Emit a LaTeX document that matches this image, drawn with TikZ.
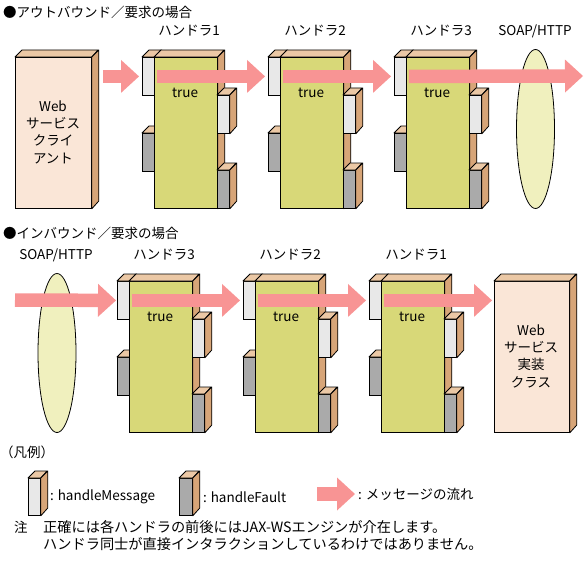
\documentclass[tikz,border=0pt]{standalone}
\usepackage{fontspec}
\setmainfont{Noto Sans CJK JP}
\usetikzlibrary{arrows.meta,shapes.geometric,positioning}

\definecolor{topface}{HTML}{EBC8A5}
\definecolor{sideface}{HTML}{D7A578}
\definecolor{clientface}{HTML}{FAE6D7}
\definecolor{handlergreen}{HTML}{D8D878}
\definecolor{msgwhite}{HTML}{E8E8E8}
\definecolor{faultgray}{HTML}{AAAAAA}
\definecolor{flowpink}{HTML}{F89494}
\definecolor{soapfill}{HTML}{F0F0BE}

\tikzset{
  slab/.style={draw, line width=0.8pt, inner sep=0pt, anchor=north west},
  rim/.style={draw, line width=0.8pt, line join=round},
  flow/.style={draw=flowpink, line width=13.5pt, shorten <=2pt, shorten >=3pt,
    -{Triangle[width=33pt, length=18pt, line width=0pt]}},
  soap/.style={ellipse, draw, line width=0.8pt, fill=soapfill, inner sep=0pt,
    minimum width=38pt, minimum height=159pt},
  txt/.style={inner sep=0pt, anchor=west},
}

% 3D box: name, x, y (top left of front), width, height, colour
\newcommand{\slabbox}[6]{%
  \node[slab, fill=#6, minimum width=#4pt, minimum height=#5pt] (#1) at (#2,#3) {};
  \draw[rim, fill=topface] (#1.north west) -- ++(7,-7) -- ++(#4,0) -- (#1.north east) -- cycle;
  \draw[rim, fill=sideface] (#1.north east) -- ++(7,-7) -- ++(0,#5) -- (#1.south east) -- cycle;
}

% handler: name, x, y, label
\newcommand{\handler}[4]{%
  \slabbox{#1in}{#2-12}{#3}{12}{38}{msgwhite}
  \slabbox{#1flt}{#2-12}{#3+76}{12}{38}{faultgray}
  \slabbox{#1}{#2}{#3}{63}{151}{handlergreen}
  \slabbox{#1out}{#2+63}{#3+38}{12}{38}{msgwhite}
  \slabbox{#1fo}{#2+63}{#3+113}{12}{38}{faultgray}
  \node (#1t) at (#2+31,#3+36) {true};
  \node (#1lbl) at (#2+35,#3-26) {#4};
}

\begin{document}
\begin{tikzpicture}[x=1pt, y=-1pt, font=\fontsize{13.5}{17.3}\selectfont]
  \useasboundingbox (0,0) rectangle (585,564);

  % outbound
  \node[txt] (outtitle) at (3,12) {●アウトバウンド／要求の場合};
  \slabbox{client}{15}{57}{76}{151}{clientface}
  \node[align=center] (clienttxt) at (53,132) {Web\\サービス\\クライ\\アント};
  \foreach \i/\x in {1/154,2/280,3/406} {\handler{a\i}{\x}{57}{ハンドラ\i}}
  \node[soap] (soapA) at (535.5,129) {};
  \node (soapAlbl) at (535,31) {SOAP/HTTP};
  \coordinate (outA) at (583,76);
  \draw[flow, shorten <=11pt] (client.east |- a1in.west) -- (a1in.west);
  \draw[flow] (a1in.east) -- (a2in.west);
  \draw[flow] (a2in.east) -- (a3in.west);
  \draw[flow, shorten >=0pt] (a3in.east) -- (outA);

  % inbound
  \node[txt] (intitle) at (3,233) {●インバウンド／要求の場合};
  \node[soap] (soapB) at (57,353) {};
  \node (soapBlbl) at (56,255) {SOAP/HTTP};
  \foreach \i/\x in {3/129,2/255,1/381} {\handler{b\i}{\x}{281}{ハンドラ\i}}
  \slabbox{impl}{494}{281}{75}{151}{clientface}
  \node[align=center] (impltxt) at (531,356) {Web\\サービス\\実装\\クラス};
  \coordinate (inB) at (15,300);
  \draw[flow, shorten <=0pt, shorten >=1pt] (inB) -- (b3in.west);
  \draw[flow] (b3in.east) -- (b2in.west);
  \draw[flow] (b2in.east) -- (b1in.west);
  \draw[flow, shorten >=2pt] (b1in.east) -- (impl.west |- b1in.east);

  % legend
  \node[txt] (legend) at (0,452) {（凡例）};
  \slabbox{keymsg}{28}{478}{12}{37}{msgwhite}
  \node[txt, right=9pt of keymsg] (keymsgtxt) {: handleMessage};
  \slabbox{keyflt}{179}{478}{13}{37}{faultgray}
  \node[txt, right=10pt of keyflt] (keyflttxt) {: handleFault};
  \node[txt] (keyflow) at (358,494) {: メッセージの流れ};
  \draw[flow, shorten <=0pt] ([xshift=-41pt]keyflow.west) -- (keyflow.west);

  % note
  \node[txt] (notemark) at (14,527) {注};
  \node[txt, align=left, font=\fontsize{14.2}{17}\selectfont] (note) at (43,535.5) {正確には各ハンドラの前後にはJAX-WSエンジンが介在します。\\ハンドラ同士が直接インタラクションしているわけではありません。};
\end{tikzpicture}
\end{document}
